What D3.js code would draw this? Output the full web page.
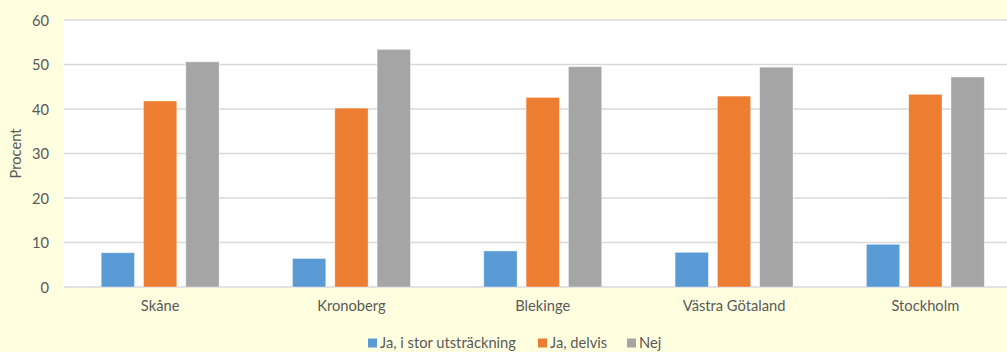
<!DOCTYPE html>
<html>
<head>
<meta charset="utf-8">
<script src="https://cdn.jsdelivr.net/npm/d3@7"></script>
<style>
  html, body { margin: 0; padding: 0; background: #FFFFE0; overflow: hidden; }
  svg { display: block; }
  text { font-family: Lato, "Open Sans", sans-serif; fill: #595959; }
</style>
</head>
<body>
<svg id="chart" width="1007" height="352"></svg>
<script>
const categories = ["Skåne", "Kronoberg", "Blekinge", "Västra Götaland", "Stockholm"];
const seriesNames = ["Ja, i stor utsträckning", "Ja, delvis", "Nej"];
const storUtstrackning = [7.7, 6.4, 8.1, 7.8, 9.6];
const delvis = [41.8, 40.2, 42.6, 42.9, 43.3];
const nej = [50.6, 53.4, 49.5, 49.4, 47.2];
const yTicks = [0, 10, 20, 30, 40, 50, 60];
const colors = ["#5B9BD5", "#ED7D31", "#A5A5A5"];
const seriesValues = [storUtstrackning, delvis, nej];

const W = 1007, H = 352;
const plot = { left: 64.5, right: 1021, top: 20, bottom: 287 };
const FS = 14.7;
const FF = "Lato, 'Open Sans', sans-serif";

const svg = d3.select("#chart");
svg.append("rect").attr("width", W).attr("height", H).attr("fill", "#FFFFE0");
svg.append("rect")
  .attr("x", 64).attr("y", plot.top - 1)
  .attr("width", W - 64).attr("height", plot.bottom - plot.top + 2)
  .attr("fill", "#ffffff");

const x0 = d3.scaleBand().domain(categories).range([plot.left, plot.right]).paddingInner(0).paddingOuter(0);
const x1 = d3.scaleBand().domain(seriesNames).range([0, x0.bandwidth()]).paddingInner(0.213).paddingOuter(0.867);
const y = d3.scaleLinear().domain([0, 60]).range([plot.bottom, plot.top]);

// gridlines
svg.append("g").selectAll("line").data(yTicks).join("line")
  .attr("x1", 64).attr("x2", W)
  .attr("y1", d => y(d)).attr("y2", d => y(d))
  .attr("stroke", "#D9D9D9").attr("stroke-width", 1.5);

// y axis labels
const yAxis = d3.axisLeft(y).tickValues(yTicks).tickSize(0).tickPadding(0);
const yg = svg.append("g").attr("transform", `translate(49,0)`).call(yAxis);
yg.select(".domain").remove();
yg.selectAll("text").attr("font-size", FS).style("font-family", FF).attr("fill", "#595959").attr("dy", "0.35em");

// bars
const groups = svg.append("g").selectAll("g").data(categories).join("g")
  .attr("transform", d => `translate(${x0(d)},0)`);
groups.selectAll("rect").data((d, i) => seriesNames.map((s, j) => ({ s, j, v: seriesValues[j][i] })))
  .join("rect")
  .attr("x", d => x1(d.s))
  .attr("width", x1.bandwidth())
  .attr("y", d => y(d.v))
  .attr("height", d => y(0) - y(d.v))
  .attr("fill", d => colors[d.j])
  .attr("stroke", "#ffffff").attr("stroke-opacity", 0.5).attr("stroke-width", 0.75);

// x axis labels
const xAxis = d3.axisBottom(x0).tickSize(0).tickPadding(0);
const xg = svg.append("g").attr("transform", `translate(0,${plot.bottom + 14})`).call(xAxis);
xg.select(".domain").remove();
xg.selectAll("text").attr("font-size", FS).style("font-family", FF).attr("fill", "#595959").attr("dy", "0.71em");

// y axis title
svg.append("text")
  .attr("transform", `translate(21,${(plot.top + plot.bottom) / 2}) rotate(-90)`)
  .attr("text-anchor", "middle")
  .attr("font-size", FS)
  .text("Procent");

// legend
const legendX = [368, 538, 627];
const lg = svg.append("g").selectAll("g").data(seriesNames).join("g")
  .attr("transform", (d, i) => `translate(${legendX[i]},343)`);
lg.append("rect").attr("x", 0).attr("y", -4.5).attr("width", 9).attr("height", 9)
  .attr("fill", (d, i) => colors[i]);
lg.append("text").attr("x", 12).attr("dy", "0.35em").attr("font-size", FS).text(d => d);
</script>
</body>
</html>
